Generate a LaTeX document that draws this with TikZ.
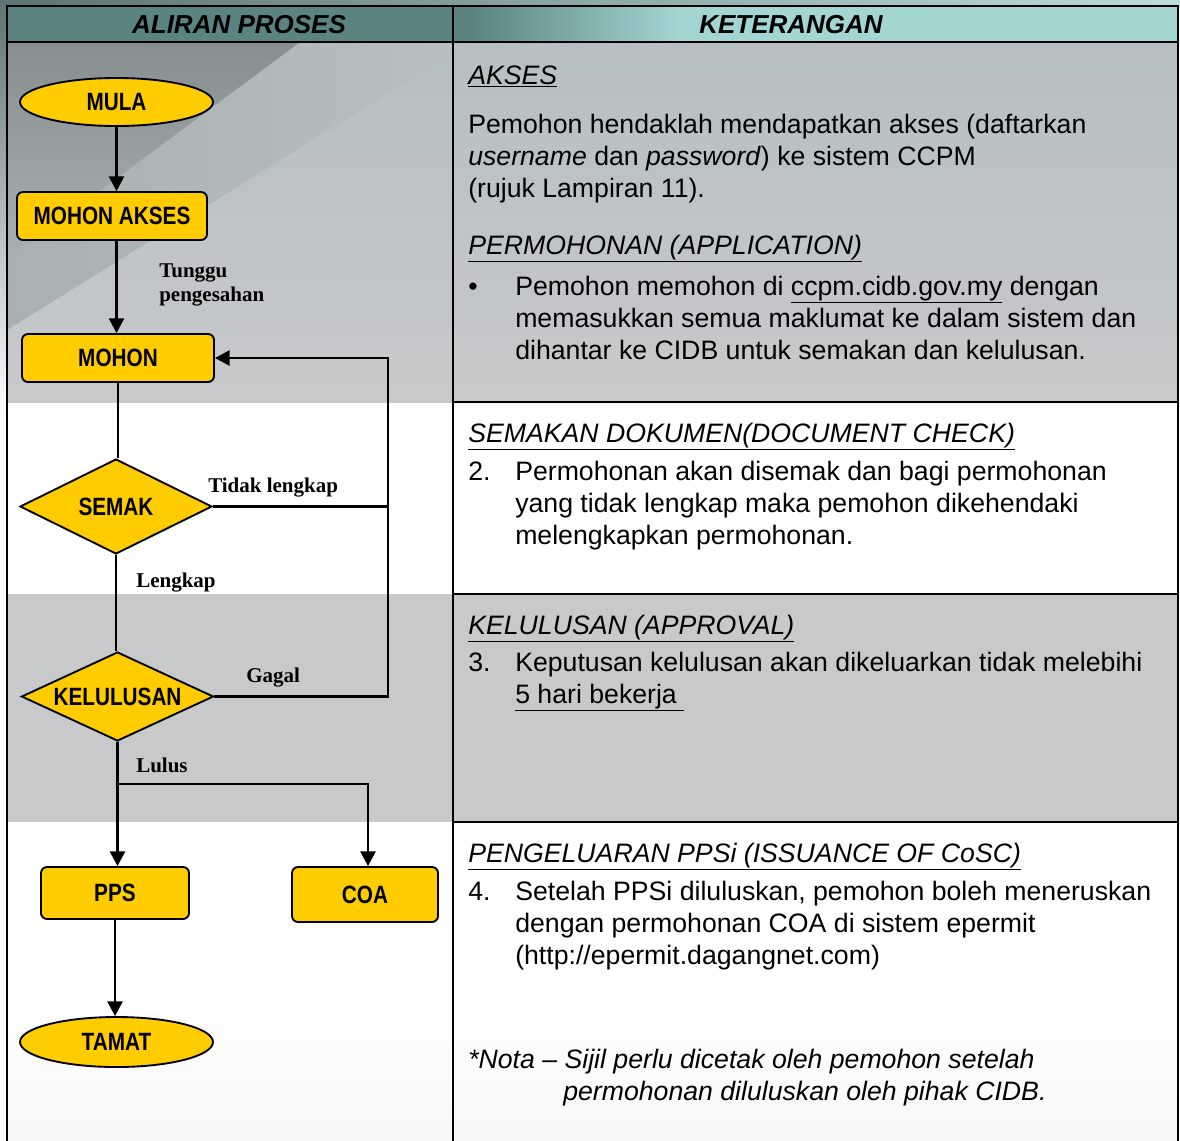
\documentclass[tikz,border=0pt]{standalone}
\usepackage{fontspec}
\setmainfont{Liberation Sans}
\newfontfamily\nodefont[FakeStretch=0.83]{Liberation Sans}
\newfontfamily\lblfont{Liberation Serif}
\usetikzlibrary{arrows.meta,shapes.geometric}
\definecolor{nodeyel}{HTML}{FFCC00}
\definecolor{rowgray}{HTML}{C8C9CB}
\definecolor{rowtop}{HTML}{B6BFC1}
\definecolor{hdrdark}{HTML}{5A8382}
\definecolor{hdrlight}{HTML}{A3D5D3}
\definecolor{outdark}{HTML}{5E7373}
\definecolor{outlight}{HTML}{BEDCDC}
\definecolor{decodark}{HTML}{868E90}
\definecolor{decomid}{HTML}{A9B0B2}
\begin{document}
\begin{tikzpicture}[x=0.75pt,y=-0.75pt,
  flowbox/.style={draw=black,line width=1.4pt,fill=nodeyel,rounded corners=4.5pt,inner sep=0pt,
    font=\nodefont\bfseries\fontsize{18.75}{20}\selectfont},
  flowell/.style={flowbox,ellipse,rounded corners=0pt},
  flowdia/.style={flowbox,diamond,rounded corners=0pt},
  conn/.style={line width=1.8pt,draw=black},
  arr/.style={conn,-{Triangle[width=11.25pt,length=11pt]}},
  elabel/.style={anchor=base west,inner sep=0pt,font=\lblfont\bfseries\fontsize{15.75}{18}\selectfont},
  body/.style={anchor=base west,inner sep=0pt,font=\fontsize{20}{24}\selectfont},
  heading/.style={anchor=base,inner sep=0pt,font=\bfseries\itshape\fontsize{19.5}{22}\selectfont},
  frame/.style={line width=1.9pt,draw=black}]
\useasboundingbox (0,0) rectangle (1180,1140);
% ---------- backgrounds ----------
\fill[white] (0,0) rectangle (1180,1140);
\shade[left color=outdark,right color=outlight] (0,0) rectangle (1180,7);
\shade[top color=outdark,bottom color=white] (0,0) rectangle (7,420);
\shade[top color=rowtop,bottom color=rowgray] (7,42) rectangle (1178,402);
\shade[left color=decomid,right color=rowtop] (7,42) -- (470,42) -- (7,330) -- cycle;
\shade[top color=decodark,bottom color=decomid] (7,42) -- (300,42) -- (7,260) -- cycle;
\fill[rowgray] (7,594) rectangle (1178,822);
\shade[top color=white,bottom color=gray!6] (7,1000) rectangle (1178,1140);
\fill[hdrdark] (7,6) rectangle (470,42);
\shade[left color=hdrdark,right color=hdrlight] (470,6) rectangle (680,42);
\fill[hdrlight] (680,6) rectangle (1178,42);
% ---------- table frame ----------
\draw[frame] (7,1142) -- (7,6) -- (1178,6) -- (1178,1142);
\draw[frame] (7,42) -- (1178,42);
\draw[frame] (453,6) -- (453,1142);
\draw[frame] (453,402) -- (1178,402);
\draw[frame] (453,594) -- (1178,594);
\draw[frame] (453,822) -- (1178,822);
% ---------- headers ----------
\node[heading] (h1) at (239,33) {ALIRAN PROSES};
\node[heading] (h2) at (791,33) {KETERANGAN};
% ---------- flow nodes ----------
\node[flowell,minimum width={193*0.75pt},minimum height={48*0.75pt}] (mula) at (116.5,102) {MULA};
\node[flowbox,minimum width={190*0.75pt},minimum height={48*0.75pt}] (makses) at (112,216) {MOHON AKSES};
\node[flowbox,minimum width={192*0.75pt},minimum height={48*0.75pt}] (mohon) at (118,358) {MOHON};
\node[flowdia,minimum width={192*0.75pt},minimum height={95*0.75pt}] (semak) at (116,506.5) {\makebox[0pt]{SEMAK}};
\node[flowdia,minimum width={192*0.75pt},minimum height={89*0.75pt}] (kel) at (117.5,696.5) {\makebox[0pt]{KELULUSAN}};
\node[flowbox,minimum width={148*0.75pt},minimum height={52*0.75pt}] (pps) at (115,893) {PPS};
\node[flowbox,minimum width={146*0.75pt},minimum height={55*0.75pt}] (coa) at (365,894.5) {COA};
\node[flowell,minimum width={193*0.75pt},minimum height={50*0.75pt}] (tamat) at (116.5,1042) {TAMAT};
% ---------- connectors ----------
\coordinate (loopx) at (388,0);
\coordinate (split) at (117.5,784);
\coordinate (coaentry) at (368,0);
\draw[arr] (mula.south) -- (mula.south |- makses.north);
\draw[arr] (mula.south |- makses.south) -- (mula.south |- mohon.north);
\draw[conn] (mohon.south) -- (mohon.south |- semak.north);
\draw[conn] (semak.south) -- (semak.south |- kel.north);
\draw[conn] (semak.east) -- (semak.east -| loopx);
\draw[arr] (kel.east) -- (kel.east -| loopx) |- (mohon.east);
\draw[arr] (kel.south) -- (kel.south |- pps.north);
\draw[arr] (split) -| (coaentry |- coa.north);
\draw[arr] (pps.south) -- (pps.south |- tamat.north);
% ---------- connector labels ----------
\node[elabel] (l1) at (159,277) {Tunggu};
\node[elabel] (l2) at (159,301) {pengesahan};
\node[elabel] (l3) at (208,492) {Tidak lengkap};
\node[elabel] (l4) at (136,587) {Lengkap};
\node[elabel] (l5) at (246,682) {Gagal};
\node[elabel] (l6) at (136,772) {Lulus};
% ---------- right column text ----------
\node[body] (a0) at (468,84) {\underline{\textit{AKSES}}};
\node[body] (a1) at (468,133) {Pemohon hendaklah mendapatkan akses (daftarkan};
\node[body] (a2) at (468,165) {\textit{username} dan \textit{password}) ke sistem CCPM};
\node[body] (a3) at (468,197) {(rujuk Lampiran 11).};
\node[body] (b0) at (468,254) {\underline{\textit{PERMOHONAN (APPLICATION)}}};
\node[body] (bb) at (468,295) {•};
\node[body] (b1) at (515,295) {Pemohon memohon di \underline{ccpm.cidb.gov.my} dengan};
\node[body] (b2) at (515,327) {memasukkan semua maklumat ke dalam sistem dan};
\node[body] (b3) at (515,359) {dihantar ke CIDB untuk semakan dan kelulusan.};
\node[body] (c0) at (468,442) {\underline{\textit{SEMAKAN DOKUMEN(DOCUMENT CHECK)}}};
\node[body] (cn) at (468,480) {2.};
\node[body] (c1) at (515,480) {Permohonan akan disemak dan bagi permohonan};
\node[body] (c2) at (515,512) {yang tidak lengkap maka pemohon dikehendaki};
\node[body] (c3) at (515,544) {melengkapkan permohonan.};
\node[body] (d0) at (468,634) {\underline{\textit{KELULUSAN (APPROVAL)}}};
\node[body] (dn) at (468,671) {3.};
\node[body] (d1) at (515,671) {Keputusan kelulusan akan dikeluarkan tidak melebihi};
\node[body] (d2) at (515,703) {\underline{5 hari bekerja\ }};
\node[body] (e0) at (468,862) {\underline{\textit{PENGELUARAN PPSi (ISSUANCE OF CoSC)}}};
\node[body] (en) at (468,900) {4.};
\node[body] (e1) at (515,900) {Setelah PPSi diluluskan, pemohon boleh meneruskan};
\node[body] (e2) at (515,932) {dengan permohonan COA di sistem epermit};
\node[body] (e3) at (515,964) {(http://epermit.dagangnet.com)};
\node[body] (f1) at (468,1068) {\textit{*Nota – Sijil perlu dicetak oleh pemohon setelah}};
\node[body] (f2) at (563,1100) {\textit{permohonan diluluskan oleh pihak CIDB.}};
\end{tikzpicture}
\end{document}
